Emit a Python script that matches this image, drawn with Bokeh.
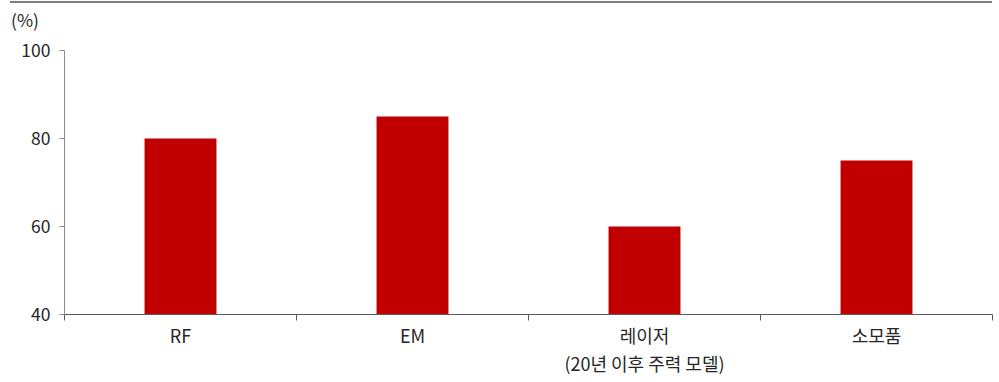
from bokeh.plotting import figure
from bokeh.layouts import column
from bokeh.models import Range1d, FixedTicker, Div
from bokeh.embed import file_html
from bokeh.resources import INLINE

# Utilisation rate by segment (%)
categories = ["RF", "EM", "레이저\n(20년 이후 주력 모델)", "소모품"]
values = [80, 85, 60, 75]
y_ticks = [40, 60, 80, 100]
unit_label = "(%)"

FONT = "Noto Sans CJK KR"
BAR_COLOR = "#c00000"
TEXT_COLOR = "#262626"

W = 999
centers = [i + 0.5 for i in range(len(categories))]

# header: top rule with the unit note under it
head = Div(
    text=unit_label, width=982, height=40, margin=(1, 7, 0, 10),
    styles={
        "box-sizing": "border-box",
        "border-top": "2px solid #808080",
        "padding-top": "6px",
        "padding-left": "1px",
        "font-family": FONT,
        "font-size": "17.5px",
        "line-height": "1.2",
        "color": TEXT_COLOR,
    },
)

# bar chart
p = figure(
    width=W, height=341,
    frame_width=928, frame_height=264,
    min_border_left=64, min_border_right=7,
    min_border_top=9, min_border_bottom=68,
    x_range=Range1d(0, len(categories)),
    y_range=Range1d(40, 100),
    output_backend="svg", toolbar_location=None,
)
p.title.visible = False

p.vbar(x=centers, top=values, bottom=40, width=0.31,
       fill_color=BAR_COLOR, line_color=None)

# x axis: labels at bar centres, tick marks on category boundaries
xa = p.xaxis[0]
xa.ticker = FixedTicker(ticks=centers, minor_ticks=list(range(len(categories) + 1)))
xa.major_label_overrides = {c: lab for c, lab in zip(centers, categories)}
xa.major_tick_line_color = None
xa.major_tick_in = 0
xa.major_tick_out = 0
xa.minor_tick_in = 0
xa.minor_tick_out = 6
xa.minor_tick_line_color = "#595959"
xa.axis_line_color = "#595959"
xa.major_label_text_font = FONT
xa.major_label_text_font_size = "18px"
xa.major_label_text_color = TEXT_COLOR
xa.major_label_text_line_height = 1.1
xa.major_label_standoff = 1

ya = p.yaxis[0]
ya.ticker = FixedTicker(ticks=y_ticks)
ya.major_tick_in = 0
ya.major_tick_out = 5
ya.minor_tick_line_color = None
ya.axis_line_color = "#8c8c8c"
ya.major_tick_line_color = "#8c8c8c"
ya.major_label_text_font = FONT
ya.major_label_text_font_size = "17.5px"
ya.major_label_text_color = TEXT_COLOR
ya.major_label_standoff = 9

p.grid.visible = False
p.outline_line_color = None

layout = column(head, p, spacing=0)
open("out.html", "w").write(file_html(layout, INLINE))
